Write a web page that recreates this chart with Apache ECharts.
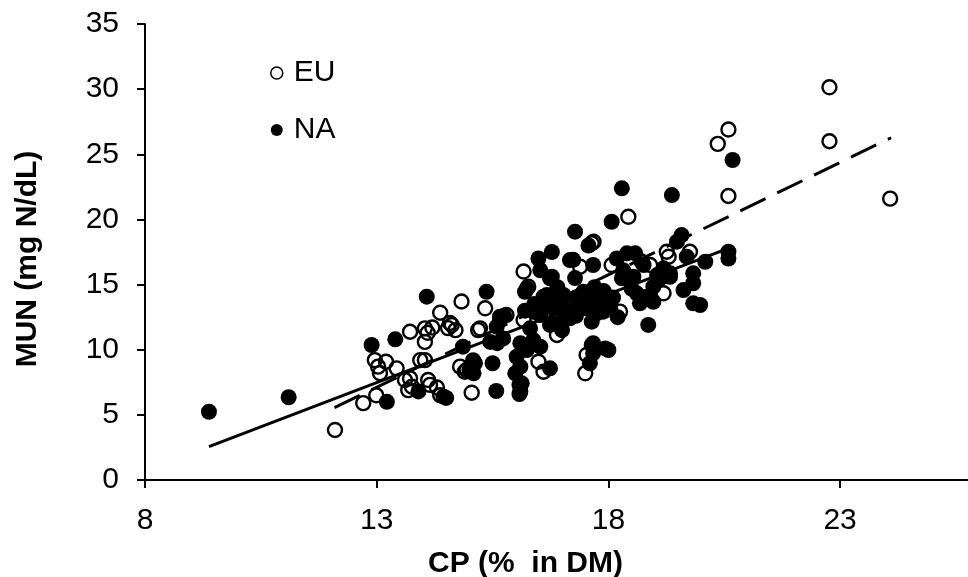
<!DOCTYPE html>
<html>
<head>
<meta charset="utf-8">
<script src="https://cdn.jsdelivr.net/npm/echarts@6/dist/echarts.min.js"></script>
<style>html,body{margin:0;padding:0;background:#fff;}#c{width:968px;height:577px;}</style>
</head>
<body>
<div id="c"></div>
<script>
const xTicks = [8, 13, 18, 23];
const seriesNames = ['EU', 'NA'];
const xTitle = 'CP (%  in DM)';
const yTitle = 'MUN (mg N/dL)';

const euPoints = [
  [12.1,3.84],[12.71,5.9],[12.99,6.5],[13.68,6.9],[14.15,7.3],[14.3,7.1],[15.05,6.7],
  [14.83,13.7],[14.37,12.84],[13.72,11.38],[14.04,11.64],[14.1,11.3],[14.04,10.6],[14.2,11.7],
  [14.54,11.66],[14.7,11.5],[14.58,12.05],[12.96,9.2],[13.03,8.7],[13.2,9.08],[13.07,8.2],
  [13.43,8.57],[13.94,9.2],[14.04,9.2],[13.61,7.67],[13.72,7.8],[13.76,7.16],[14.11,7.67],
  [14.37,6.5],[15.34,13.18],[15.19,11.5],[14.8,8.7],[14.94,8.44],[14.9,8.31],[16.17,16.0],
  [17.39,16.37],[16.27,14.84],[17.64,18.17],[15.23,11.64],[16.17,12.28],[16.89,11.13],
  [16.49,9.08],[16.6,8.31],[17.53,9.6],[17.5,8.19],[15.8,12.66],[14.62,11.9],[17.68,18.29],
  [18.43,20.2],[19.76,17.52],[19.26,17.52],[19.3,17.14],[18.07,16.5],[18.9,16.5],[19.19,14.33],
  [18.25,12.92],[18.72,16.75],[20.59,21.8],[22.77,30.14],[22.77,26.0],[20.59,26.9],[20.36,25.8],
  [24.08,21.6]
];

const naPoints = [
  [9.38,5.24],[11.1,6.35],[13.22,6.0],[13.9,6.8],[14.5,6.3],[15.58,6.83],[16.08,6.6],[16.08,7.3],
  [14.08,14.07],[12.89,10.36],[13.4,10.8],[14.86,10.23],[14.44,6.4],[15.37,14.45],[15.6,10.5],
  [15.5,8.96],[15.08,9.2],[15.0,8.44],[17.28,19.06],[17.57,18.0],[17.17,16.88],[16.78,17.5],
  [16.49,17.0],[16.53,16.1],[17.28,15.5],[16.78,15.6],[16.2,14.45],[16.6,14.07],[15.66,12.53],
  [15.75,12.6],[15.59,11.77],[15.73,10.87],[15.45,10.6],[16.1,10.5],[16.24,9.98],[16.53,10.23],
  [16.78,12.03],[16.02,9.46],[16.1,8.7],[15.99,8.19],[16.13,7.42],[16.1,6.78],[16.74,8.57],
  [15.12,8.96],[15.09,8.19],[17.67,10.23],[17.6,8.96],[17.67,9.72],[18.29,22.39],[19.37,21.87],
  [18.07,19.82],[19.58,18.8],[19.48,18.29],[19.69,17.14],[20.09,16.75],[20.59,17.52],[20.59,17.0],
  [18.4,17.4],[18.58,17.4],[18.18,17.0],[18.76,16.5],[19.19,16.25],[19.83,15.86],[19.83,15.1],
  [19.62,14.58],[19.33,15.6],[19.12,15.48],[18.97,14.84],[18.61,14.33],[18.68,13.56],[18.97,13.68],
  [19.83,13.56],[19.98,13.43],[18.86,11.9],[17.82,13.56],[18.29,15.48],[18.32,16.1],[18.5,14.7],
  [20.68,24.56],[17.24,16.9],[17.67,16.5],[16.74,15.48],[18.32,15.73],[16.24,14.7],[16.67,14.2],
  [17.03,14.2],[16.81,13.18],[17.46,14.45],[17.75,13.94],[17.53,13.18],[17.89,12.92],[18.04,13.18],
  [16.53,12.66],[17.17,12.41],[17.64,12.15],[16.74,11.9],[16.99,12.15],[16.31,11.64],[16.38,10.74],
  [17.64,10.36],[17.93,10.1],[18.83,14.07],[17.89,13.3],[17.75,12.8],[17.67,10.5],[18.0,9.98],
  [18.54,15.6],[19.05,15.73],[19.33,15.86],[15.66,12.28],[17.0,13.5],[17.2,13.0],[16.9,14.8],
  [17.3,14.0],[17.1,12.8],[16.4,13.5],[17.4,13.6],[16.6,13.4],[17.7,14.8],[17.9,14.5],
  [16.4,12.9],[16.9,13.9],[17.5,14.2],[18.1,14.0],[17.3,12.6],[16.2,13.0],[18.2,12.5],[17.0,11.5]
];

const naFit = [[9.38,2.56],[20.6,17.8]];
const euFit = [[12.09,5.55],[24.1,26.27]];

const FONT = 'Liberation Sans';
const chart = echarts.init(document.getElementById('c'), null, {renderer: 'canvas'});
chart.setOption({
  animation: false,
  backgroundColor: '#fff',
  textStyle: {fontFamily: FONT, color: '#000'},
  title: {
    text: xTitle, left: 428, top: 549, padding: 0,
    textStyle: {fontFamily: FONT, fontSize: 30, fontWeight: 'bold', color: '#000', lineHeight: 30}
  },
  grid: {left: 145, top: 24, bottom: 97, right: 0, containLabel: false},
  legend: {
    orient: 'vertical', left: 265, top: 52, itemWidth: 12, itemHeight: 12, itemGap: 25,
    selectedMode: false,
    textStyle: {fontFamily: FONT, fontSize: 30, color: '#000', lineHeight: 32, padding: [0,0,0,6]},
    data: [
      {name: seriesNames[0], icon: 'circle', itemStyle: {color: '#fff', borderColor: '#000', borderWidth: 1.5}},
      {name: seriesNames[1], icon: 'circle', itemStyle: {color: '#000', borderWidth: 0}}
    ]
  },
  xAxis: {
    type: 'value', min: 8, max: 25.76,
    axisLine: {show: true, lineStyle: {color: '#000', width: 2}},
    axisTick: {show: true, length: 8, lineStyle: {color: '#000', width: 2}, customValues: xTicks},
    axisLabel: {fontFamily: FONT, fontSize: 30, color: '#000', margin: 26, customValues: xTicks},
    splitLine: {show: false}
  },
  yAxis: {
    type: 'value', min: 0, max: 35, interval: 5,
    name: yTitle, nameLocation: 'middle', nameGap: 102,
    nameTextStyle: {fontFamily: FONT, fontSize: 30, fontWeight: 'bold', color: '#000', padding: [0, 14, 0, 0]},
    axisLine: {show: true, lineStyle: {color: '#000', width: 2}},
    axisTick: {show: true, length: 8, lineStyle: {color: '#000', width: 2}},
    axisLabel: {fontFamily: FONT, fontSize: 30, color: '#000', margin: 26},
    splitLine: {show: false}
  },
  series: [
    {
      name: seriesNames[1], type: 'scatter', data: naPoints, symbol: 'circle', symbolSize: 16, z: 2,
      itemStyle: {color: '#000', opacity: 1}
    },
    {
      name: seriesNames[0], type: 'scatter', data: euPoints, symbol: 'circle', symbolSize: 14, z: 3,
      itemStyle: {color: 'rgba(255,255,255,0)', borderColor: '#000', borderWidth: 2.4, opacity: 1}
    },
    {
      name: 'NA fit', type: 'line', data: naFit, showSymbol: false, symbol: 'none', z: 4,
      lineStyle: {color: '#000', width: 3, type: 'solid'}
    },
    {
      name: 'EU fit', type: 'line', data: euFit, showSymbol: false, symbol: 'none', z: 4,
      lineStyle: {color: '#000', width: 3, type: [28, 13]}
    }
  ]
});
</script>
</body>
</html>
